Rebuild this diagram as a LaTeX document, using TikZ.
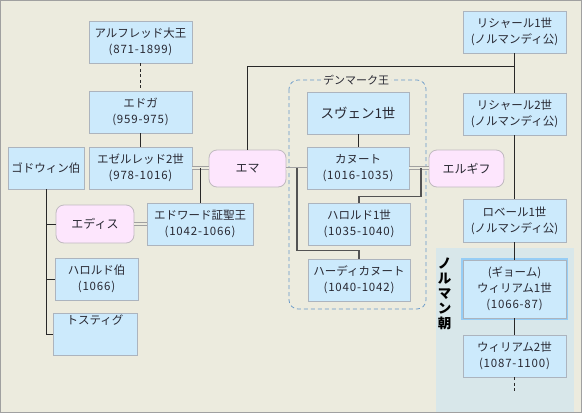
\documentclass[tikz,border=0pt]{standalone}
\usepackage{fontspec}
\setmainfont{Noto Sans CJK JP}
\newfontfamily\yrfont{Noto Sans CJK JP}[LetterSpace=7]
\usetikzlibrary{calc}
\definecolor{bgcol}{RGB}{236,235,222}
\definecolor{framecol}{RGB}{160,160,160}
\definecolor{boxfill}{RGB}{204,234,252}
\definecolor{boxdraw}{RGB}{172,180,190}
\definecolor{pinkfill}{RGB}{253,230,253}
\definecolor{pinkdraw}{RGB}{192,186,192}
\definecolor{normcol}{RGB}{216,231,234}
\definecolor{dashcol}{RGB}{100,150,200}
\definecolor{linecol}{RGB}{40,40,40}
\definecolor{marrcol}{RGB}{160,160,160}
\definecolor{txtcol}{RGB}{40,40,50}
\definecolor{glowcol}{RGB}{150,205,245}
\newcommand\yr[1]{{\yrfont\fontsize{11.5}{16}\selectfont #1}}
\begin{document}
\begin{tikzpicture}[x=1pt,y=-1pt,
  box/.style={rectangle, draw=boxdraw, fill=boxfill, line width=0.8pt, align=center,
    minimum width=103pt, minimum height=42pt, inner sep=0pt, text=txtcol,
    font=\fontsize{11.5}{16}\selectfont},
  pinkbox/.style={rectangle, rounded corners=8pt, draw=pinkdraw, fill=pinkfill, line width=0.8pt,
    minimum width=77pt, minimum height=37pt, inner sep=0pt, text=txtcol,
    font=\fontsize{12}{16}\selectfont},
  glow/.style={preaction={draw=glowcol, line width=4pt}},
  kin/.style={draw=linecol, line width=0.8pt},
  kinthick/.style={draw=linecol!80, line width=1.3pt},
  marr/.style={draw=marrcol, double=bgcol, double distance=2pt, line width=0.7pt},
  dotline/.style={draw=linecol, line width=0.8pt, dash pattern=on 3pt off 2.5pt},
]
\useasboundingbox (0,0) rectangle (582,413);
\fill[bgcol] (0,0) rectangle (582,413);
\fill[normcol] (436,248) rectangle (574,412);
\draw[framecol, line width=1pt] (0.5,0.5) rectangle (581.5,412.5);

% Denmark frame
\draw[dashcol, line width=0.7pt, dash pattern=on 4pt off 3pt, rounded corners=9pt] (289,80) rectangle (426,309);
\node[fill=bgcol, inner xsep=2pt, inner ysep=0pt, text=txtcol, font=\fontsize{11}{13}\selectfont] (dk) at (356,80) {デンマーク王};

% boxes
\node[box] (alfred) at (140.5,42) {アルフレッド大王\\\yr{(871-1899)}};
\node[box] (edgar) at (140.5,112) {エドガ\\\yr{(959-975)}};
\node[box] (ethel) at (140.5,168) {エゼルレッド2世\\\yr{(978-1016)}};
\node[box, minimum width=76pt] (godwin) at (46,168) {ゴドウィン伯};
\node[pinkbox] (emma) at (247.5,168.5) {エマ};
\node[box] (rich1) at (514.5,32) {リシャール1世\\\yr{(}ノルマンディ公\yr{)}};
\node[box] (rich2) at (514.5,114) {リシャール2世\\\yr{(}ノルマンディ公\yr{)}};
\node[box, minimum width=102pt, font=\fontsize{13.5}{16}\selectfont] (sweyn) at (358,113) {スヴェン1世};
\node[box, minimum width=102pt] (canute) at (358,168) {カヌート\\\yr{(1016-1035)}};
\node[pinkbox, minimum width=75pt] (elgifu) at (466.5,168.5) {エルギフ};
\node[box, minimum width=102pt] (harold1) at (359,224) {ハロルド1世\\\yr{(1035-1040)}};
\node[box, minimum width=102pt] (hardi) at (359,280) {ハーディカヌート\\\yr{(1040-1042)}};
\node[box, minimum height=43pt] (robert) at (514.5,220.5) {ロベール1世\\\yr{(}ノルマンディ公\yr{)}};
\node[box, glow, minimum height=58pt] (will1) at (514.5,289) {\yr{(}ギョーム\yr{)}\\ウィリアム1世\\\yr{(1066-87)}};
\node[box] (will2) at (514.5,356) {ウィリアム2世\\\yr{(1087-1100)}};
\node[pinkbox, minimum width=78pt, minimum height=38pt] (edith) at (95,224) {エディス};
\node[box, minimum width=106pt] (edward) at (200,224) {エドワード証聖王\\\yr{(1042-1066)}};
\node[box, minimum width=83pt] (haroldE) at (96.5,279) {ハロルド伯\\\yr{(1066)}};
\node[box, minimum width=84pt, text height=12pt] (tostig) at (95,334) {トスティグ\\\mbox{}};

% Norman label
\node[align=center, text=black, font=\fontsize{13.5}{15}\selectfont\bfseries] (norm) at (444.5,294) {ノ\\ル\\マ\\ン\\朝};

% lineage lines
\draw[dotline] (alfred.south) -- (edgar.north);
\draw[kin] (edgar.south) -- (ethel.north);
\draw[kin] (sweyn.south) -- (canute.north);
\draw[kin] (rich1.south) -- (rich2.north);
\draw[kin] (rich2.south) -- (robert.north);
\draw[kin] (robert.south) -- (will1.north);
\draw[kin] (will1.south) -- (will2.north);
\coordinate (wend) at ($(will2.south)+(0,16)$);
\draw[dotline] (will2.south) -- (wend);
\coordinate (rj) at (514.5,66);
\draw[kin] (emma.north) |- (rj);

% marriages
\draw[marr] (ethel.east) -- (ethel.east -| emma.west);
\draw[marr] (emma.east) -- (emma.east -| canute.west);
\draw[marr] (canute.east) -- (canute.east -| elgifu.west);
\draw[marr] (edith.east) -- (edith.east -| edward.west);

% children
\coordinate (m1) at (200,168);
\draw[kin] (m1) -- (edward.north);
\coordinate (m2) at (297,168);
\draw[kinthick] (m2) |- ($(hardi.north)+(0,-8)$) -- (hardi.north);
\coordinate (m3) at (421,168);
\draw[kinthick] (m3) |- ($(harold1.north)+(0,-6)$) -- (harold1.north);

% Godwin
\draw[kin] (godwin.south) |- (tostig.west);
\draw[kin] (godwin.south |- edith.west) -- (edith.west);
\draw[kin] (godwin.south |- haroldE.west) -- (haroldE.west);
\end{tikzpicture}
\end{document}
